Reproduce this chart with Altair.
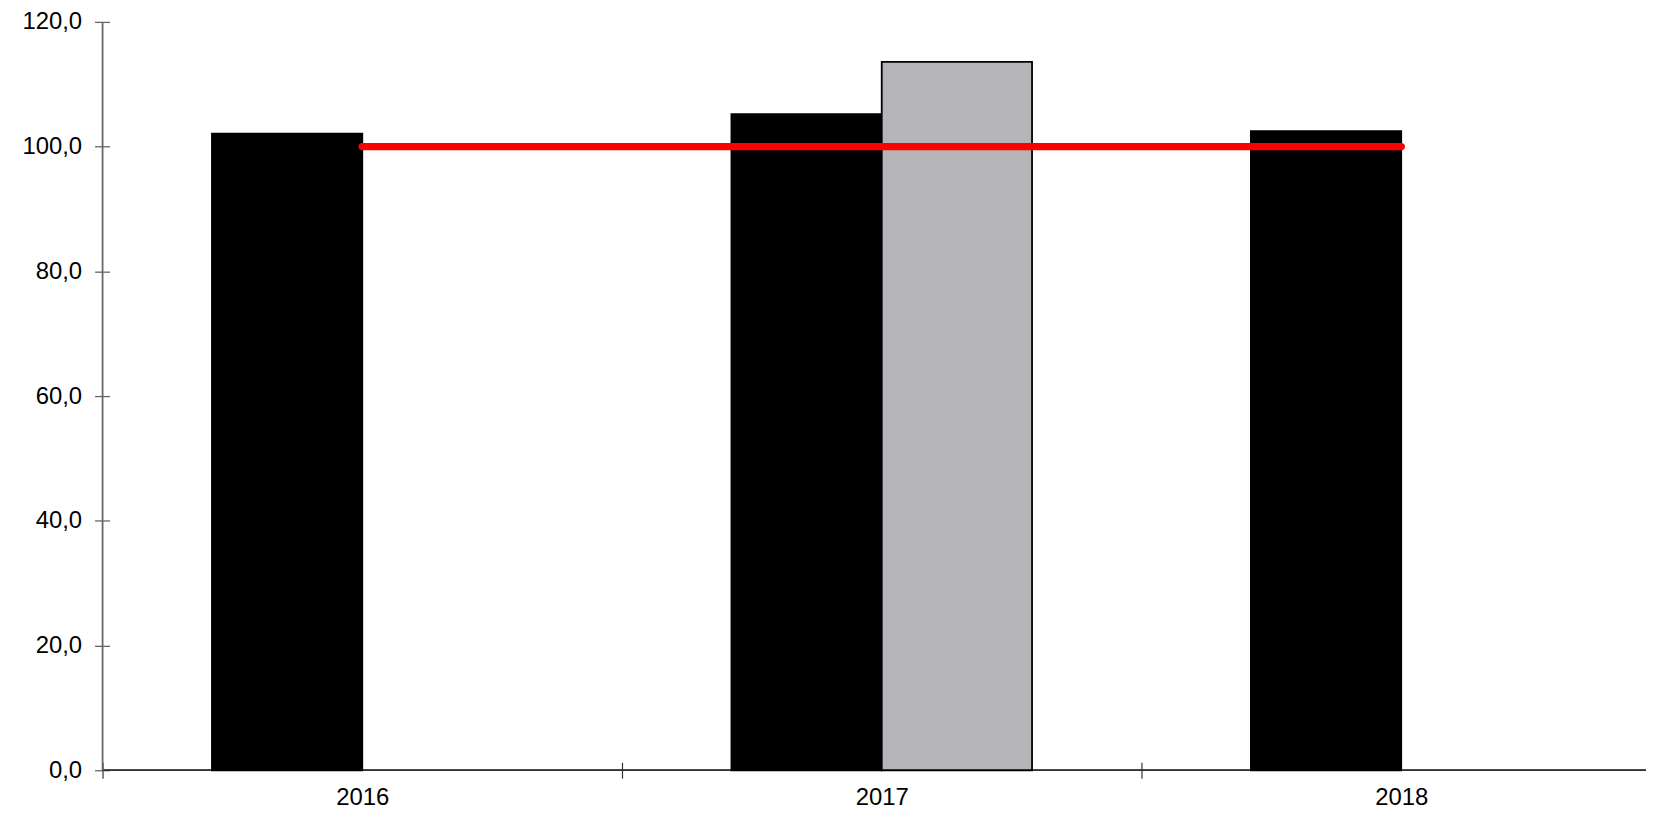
import altair as alt
import pandas as pd

years = ["2016", "2017", "2018"]
series_names = ["A", "B"]
black_values = [102.1, 105.2, 102.5]
gray_values = [None, 113.6, None]
line_values = [100.0, 100.0, 100.0]
y_ticks = [0, 20, 40, 60, 80, 100, 120]

rows = []
for yr, a, b in zip(years, black_values, gray_values):
    if a is not None:
        rows.append({"year": yr, "series": "A", "value": a})
    if b is not None:
        rows.append({"year": yr, "series": "B", "value": b})
bars_df = pd.DataFrame(rows)
line_df = pd.DataFrame({"year": years, "value": line_values})

# the last category runs past the right edge of the picture (as in the reference)
x_scale = alt.Scale(domain=years, range=[0, 1566], paddingInner=0, paddingOuter=0)
y_scale = alt.Scale(domain=[0, 120], nice=False, zero=True)

x_axis = alt.Axis(
    title=None, labelAngle=0, domain=False, tickBand="extent", tickSize=16, offset=-8,
    tickColor="#333333", tickWidth=1.2, labelPadding=7,
    labelFont="Liberation Sans", labelFontSize=24, labelColor="black", grid=False,
)
y_axis = alt.Axis(
    title=None, values=y_ticks, domain=False, tickSize=15, offset=-7,
    tickColor="#666666", tickWidth=1.3, labelPadding=13,
    labelExpr="replace(format(datum.value, '.1f'), '.', ',')",
    labelFont="Liberation Sans", labelFontSize=24, labelColor="black", grid=False,
)

x_line = alt.Chart(line_df).mark_rule(color="#333333", strokeWidth=1.3).encode(
    y=alt.datum(0, scale=y_scale)
)
y_line = alt.Chart(line_df).mark_rule(color="#666666", strokeWidth=1.3).encode(
    x=alt.value(0), y=alt.datum(0), y2=alt.datum(120)
)

bars = alt.Chart(bars_df).mark_bar(stroke="black", strokeWidth=1.8).encode(
    x=alt.X("year:N", scale=x_scale, axis=x_axis, sort=years),
    xOffset=alt.XOffset("series:N", scale=alt.Scale(domain=series_names, paddingInner=0, paddingOuter=0.728)),
    y=alt.Y("value:Q", scale=y_scale, axis=y_axis),
    color=alt.Color("series:N", scale=alt.Scale(domain=series_names, range=["#000000", "#b5b5b8"]), legend=None),
)

line = alt.Chart(line_df).mark_line(color="#ff0000", strokeWidth=7.5, strokeCap="round").encode(
    x=alt.X("year:N", scale=x_scale, sort=years),
    y=alt.Y("value:Q", scale=y_scale),
)

chart = alt.layer(x_line, y_line, bars, line).properties(
    width=1551, height=752,
    autosize=alt.AutoSizeParams(type="none"),
    padding={"left": 95, "top": 12, "right": 0, "bottom": 41},
    background="white",
).configure_view(stroke=None)

chart.save("out.html", embed_options={"renderer": "svg", "actions": False})
